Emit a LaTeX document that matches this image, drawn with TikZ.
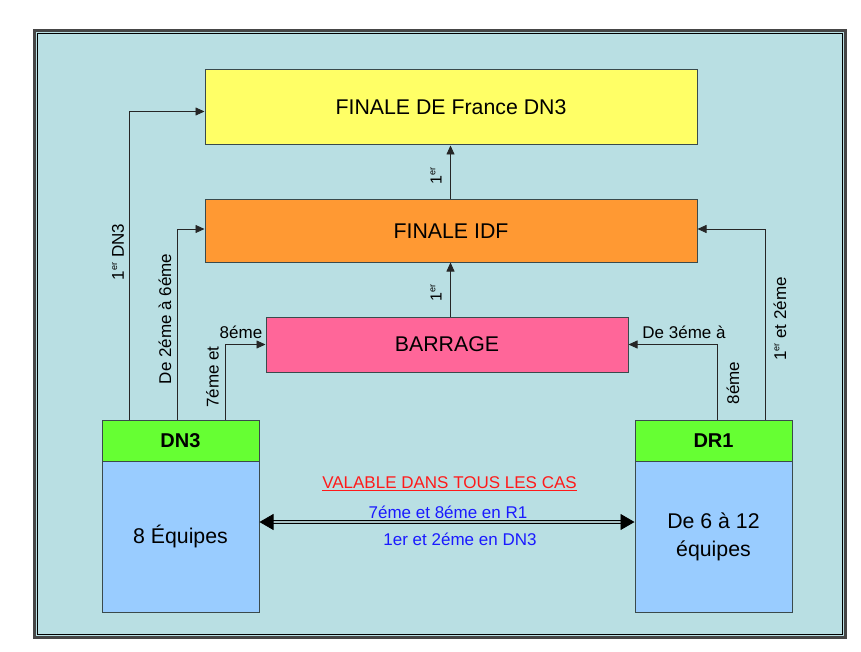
\documentclass[tikz,border=0pt]{standalone}
\usepackage{fontspec}
\setmainfont{Liberation Sans}
\usetikzlibrary{arrows.meta,calc}
\definecolor{bg}{HTML}{B9DFE3}
\definecolor{yel}{HTML}{FFFF66}
\definecolor{org}{HTML}{FF9933}
\definecolor{pnk}{HTML}{FF6699}
\definecolor{grn}{HTML}{66FF33}
\definecolor{lblue}{HTML}{99CCFF}
\definecolor{edge}{HTML}{3A4A4C}
\definecolor{txtblue}{HTML}{1A1AFF}
\definecolor{txtred}{HTML}{FF1A1A}
\newcommand\mysup[1]{\raisebox{0.75ex}{\fontsize{9}{9}\selectfont #1}}
\begin{document}
\begin{tikzpicture}[x=1pt,y=-1pt,
  box/.style={draw=edge,line width=1pt,inner sep=0pt,align=center,font=\fontsize{21.3}{28}\selectfont},
  hdr/.style={draw=edge,line width=1pt,fill=grn,inner sep=0pt,font=\fontsize{20}{24}\selectfont\bfseries},
  lbl/.style={inner sep=0pt,font=\fontsize{17}{20}\selectfont},
  arr/.style={draw=black!85,line width=0.8pt,-{Triangle[length=9pt,width=8pt]}}]
\useasboundingbox (0,0) rectangle (861,652);
\fill[white] (0,0) rectangle (861,652);
\draw[line width=3pt,draw=gray!55!black,fill=bg] (34.5,30.5) rectangle (845.5,637.5);
\draw[line width=0.9pt,black] (37.5,33.5) rectangle (842.5,634.5);

\node[box,fill=yel,minimum width=492,minimum height=75] (france) at (451,107.5) {FINALE DE France DN3};
\node[box,fill=org,minimum width=492,minimum height=62] (idf) at (451,231) {FINALE IDF};
\node[box,fill=pnk,minimum width=362,minimum height=55] (barrage) at (447,344.5) {BARRAGE};

\node[hdr,minimum width=157,minimum height=41] (dn3) at (180.5,440.5) {DN3};
\node[box,fill=lblue,minimum width=157,minimum height=151] (dn3b) at (180.5,536.5) {8 Équipes};
\node[hdr,minimum width=157,minimum height=41] (dr1) at (713.5,440.5) {DR1};
\node[box,fill=lblue,minimum width=157,minimum height=151] (dr1b) at (713.5,536.5) {De 6 à 12\\équipes};

% vertical arrows between boxes
\draw[arr] (barrage.north -| 450.5,0) -- (idf.south -| 450.5,0);
\draw[arr] (idf.north -| 450.5,0) -- (france.south -| 450.5,0);
\node[lbl,rotate=90,font=\fontsize{16}{18}\selectfont] at (436,176) {1\mysup{er}};
\node[lbl,rotate=90,font=\fontsize{16}{18}\selectfont] at (436,293) {1\mysup{er}};

% DN3 arrows
\draw[arr] (129.3,0 |- dn3.north) |- ([yshift=-4pt]france.west);
\draw[arr] (177.3,0 |- dn3.north) |- ([yshift=2pt]idf.west);
\draw[arr] (225,0 |- dn3.north) |- (barrage.west);
\node[lbl,rotate=90] at (118,252) {1\mysup{er} DN3};
\node[lbl,rotate=90] at (165,319) {De 2éme à 6éme};
\node[lbl,rotate=90] at (212.5,377) {7éme et};
\node[lbl] at (241,332) {8éme};

% DR1 arrows
\draw[arr] (717,0 |- dr1.north) |- (barrage.east);
\draw[arr] (765,0 |- dr1.north) |- ([yshift=2pt]idf.east);
\node[lbl] at (684,332) {De 3éme à};
\node[lbl,rotate=90] at (733,383) {8éme};
\node[lbl,rotate=90] at (780,319) {1\mysup{er} et 2éme};

% double arrow
\draw[line width=0.8pt,double=bg!70!gray,double distance=2pt,{Triangle[length=14pt,width=16pt]}-{Triangle[length=14pt,width=16pt]}] (dn3b.east |- 0,522) -- (dr1b.west |- 0,522);
\node[lbl,text=txtred] at (449.5,484) {\underline{VALABLE DANS TOUS LES CAS}};
\node[lbl,text=txtblue] at (448,512) {7éme et 8éme en R1};
\node[lbl,text=txtblue] at (460,539) {1er et 2éme en DN3};
\end{tikzpicture}
\end{document}
